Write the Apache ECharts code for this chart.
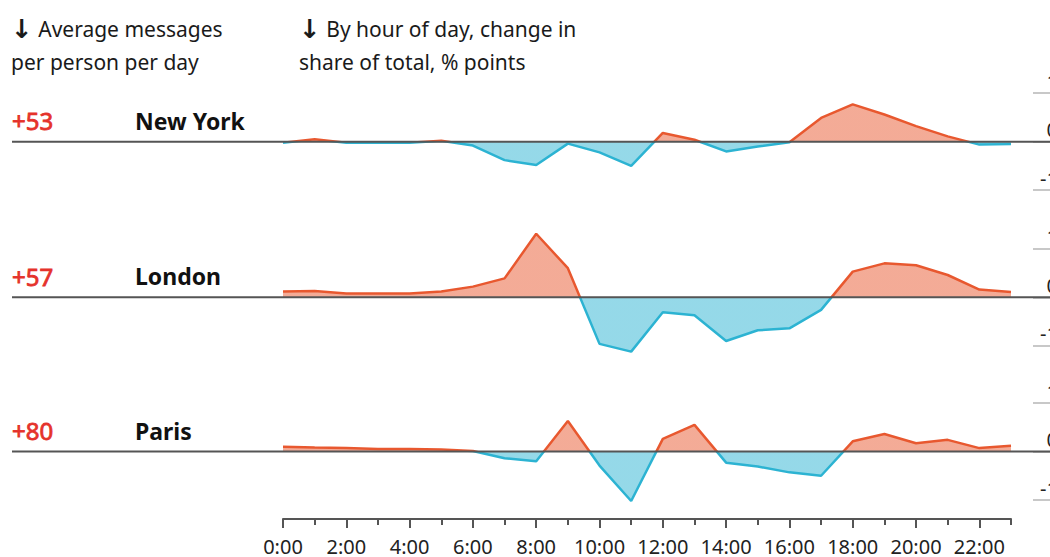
<!DOCTYPE html>
<html><head><meta charset="utf-8">
<script src="https://cdn.jsdelivr.net/npm/echarts@6/dist/echarts.min.js"></script>
<style>html,body{margin:0;padding:0;background:#fff}#c{width:1050px;height:557px}</style>
</head><body><div id="c"></div>
<script>
// ---- data ----
const hours = ['0:00','1:00','2:00','3:00','4:00','5:00','6:00','7:00','8:00','9:00','10:00','11:00',
               '12:00','13:00','14:00','15:00','16:00','17:00','18:00','19:00','20:00','21:00','22:00','23:00'];
const cities = ['New York', 'London', 'Paris'];
const avgMessages = ['+53', '+57', '+80'];
const newYork = [-0.02,0.05,-0.02,-0.02,-0.02,0.02,-0.08,-0.38,-0.48,-0.04,-0.22,-0.50,0.18,0.04,-0.20,-0.10,-0.01,0.49,0.77,0.56,0.32,0.11,-0.06,-0.05];
const london  = [0.12,0.13,0.08,0.08,0.08,0.12,0.22,0.39,1.31,0.60,-0.96,-1.12,-0.31,-0.37,-0.90,-0.68,-0.64,-0.26,0.53,0.70,0.66,0.46,0.16,0.11];
const paris   = [0.10,0.08,0.07,0.05,0.05,0.04,0.01,-0.14,-0.20,0.63,-0.29,-1.02,0.26,0.55,-0.23,-0.31,-0.43,-0.50,0.21,0.36,0.17,0.24,0.07,0.12];
const yTicks = [-1, 0, 1];
const yTickLabels = ['-1', '0', '1'];
const headerLeft = ['Average messages', 'per person per day'];
const headerRight = ['By hour of day, change in', 'share of total, % points'];

// ---- style / layout ----
const FONT = 'Noto Sans';
const ORANGE = '#e8582f';
const BLUE = '#2cb3d2';
const RED_TEXT = '#e5322b';
const seriesData = [newYork, london, paris];
const panelZero = [141.7, 297.3, 451.5];
const PX_PER_UNIT = 48.5;
const YMIN = -1.5, YMAX = 1.5;

const chart = echarts.init(document.getElementById('c'), null, {renderer: 'svg'});

const grids = panelZero.map(z => ({
  left: 283, right: 39, top: z - YMAX * PX_PER_UNIT, height: (YMAX - YMIN) * PX_PER_UNIT,
  outerBoundsMode: 'none', containLabel: false
}));
grids.push({left: 283, right: 39, top: 500, height: 19, outerBoundsMode: 'none', containLabel: false});

const xAxes = cities.map((c, i) => ({
  gridIndex: i, type: 'category', data: hours, boundaryGap: false, show: false
}));
xAxes.push({
  gridIndex: 3, type: 'category', data: hours, boundaryGap: false, position: 'bottom',
  axisLine: {show: true, lineStyle: {color: '#555', width: 2}},
  axisTick: {show: true, interval: 0, length: 6, lineStyle: {color: '#555', width: 2}},
  axisLabel: {show: false}, splitLine: {show: false}
});
xAxes.push({
  gridIndex: 3, type: 'category', data: hours, boundaryGap: false, position: 'bottom',
  axisLine: {show: false},
  axisTick: {show: true, interval: 1, length: 9, lineStyle: {color: '#555', width: 2}},
  axisLabel: {show: true, interval: 1, margin: 17, fontSize: 20, color: '#222', fontFamily: FONT},
  splitLine: {show: false}
});

const yAxes = cities.map((c, i) => ({
  gridIndex: i, type: 'value', min: YMIN, max: YMAX, position: 'right', offset: 22,
  axisLine: {show: false}, splitLine: {show: false},
  axisTick: {show: true, length: 17, customValues: yTicks, lineStyle: {color: '#c8c8c8', width: 2}},
  axisLabel: {
    show: true, customValues: yTicks, align: 'right', margin: 25, verticalAlign: 'bottom',
    padding: [0, 0, 2, 0], fontSize: 20, color: '#222', fontFamily: FONT,
    formatter: v => yTickLabels[yTicks.indexOf(v)]
  }
}));
yAxes.push({gridIndex: 3, type: 'value', show: false});

const series = cities.map((c, i) => ({
  name: c, type: 'line', xAxisIndex: i, yAxisIndex: i, data: seriesData[i],
  symbol: 'none', lineStyle: {width: 2.5}, areaStyle: {opacity: 0.5}, z: 3
}));

const visualMaps = cities.map((c, i) => ({
  type: 'piecewise', show: false, seriesIndex: i, dimension: 1,
  pieces: [{gte: -10, lt: 0, color: BLUE}, {gte: 0, lte: 10, color: ORANGE}]
}));

chart.setOption({
  animation: false,
  backgroundColor: '#fff',
  grid: grids, xAxis: xAxes, yAxis: yAxes, series: series, visualMap: visualMaps
});

const headerRich = {
  arr: {fontFamily: 'DejaVu Sans', fontWeight: 'bold', fontSize: 26, lineHeight: 33, fill: '#1a1a1a'},
  t: {fontFamily: FONT, fontSize: 21, lineHeight: 33, fill: '#1a1a1a'}
};
function headerText(lines) {
  return '{arr|↓}{t| ' + lines[0] + '}\n{t|' + lines[1] + '}';
}

const zeroPx = cities.map((c, i) => chart.convertToPixel({yAxisIndex: i}, 0));
const graphic = [
  {type: 'text', x: 11, y: 12, z: 100, style: {text: headerText(headerLeft), rich: headerRich, fontSize: 21, lineHeight: 33, fontFamily: FONT, fill: '#1a1a1a', verticalAlign: 'top'}},
  {type: 'text', x: 299, y: 12, z: 100, style: {text: headerText(headerRight), rich: headerRich, fontSize: 21, lineHeight: 33, fontFamily: FONT, fill: '#1a1a1a', verticalAlign: 'top'}}
];
cities.forEach((c, i) => {
  const z = zeroPx[i];
  graphic.push({type: 'line', z: 100, shape: {x1: 12, y1: z, x2: 1050, y2: z}, style: {stroke: '#555', lineWidth: 2}});
  graphic.push({type: 'text', x: 12, y: z - 21, z: 100, style: {text: avgMessages[i], fontSize: 24, fontFamily: FONT, fill: RED_TEXT, stroke: RED_TEXT, lineWidth: 0.8, verticalAlign: 'middle'}});
  graphic.push({type: 'text', x: 135, y: z - 21, z: 100, style: {text: c, fontSize: 23, fontWeight: 'bold', fontFamily: FONT, fill: '#111', verticalAlign: 'middle'}});
});
chart.setOption({graphic: graphic});
</script>
</body></html>
